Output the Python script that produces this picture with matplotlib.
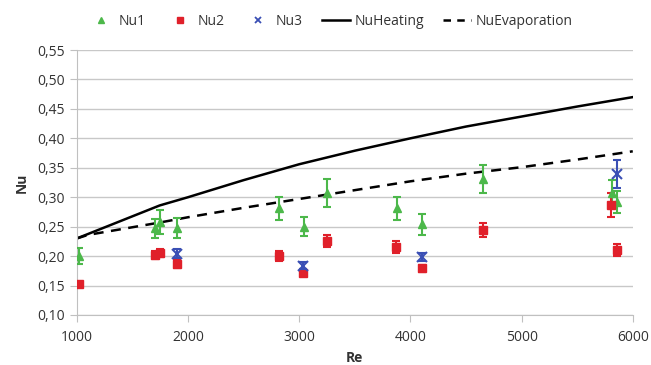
import numpy as np
import matplotlib.pyplot as plt
from matplotlib.lines import Line2D
from matplotlib.ticker import FuncFormatter

plt.rcParams['font.family'] = ['Open Sans', 'DejaVu Sans']

# measured points
re1 = [1020, 1700, 1745, 1900, 2816, 3041, 3248, 3878, 4102, 4651, 5811, 5856]
nu1 = [0.200, 0.247, 0.258, 0.247, 0.281, 0.250, 0.307, 0.281, 0.254, 0.331, 0.307, 0.292]
err1 = [0.014, 0.016, 0.020, 0.017, 0.020, 0.016, 0.024, 0.019, 0.018, 0.024, 0.023, 0.018]

re2 = [1020, 1700, 1745, 1900, 2816, 3030, 3248, 3870, 4102, 4651, 5802, 5856]
nu2 = [0.152, 0.202, 0.205, 0.187, 0.200, 0.172, 0.226, 0.215, 0.179, 0.245, 0.287, 0.210]
err2 = [0.004, 0.007, 0.007, 0.007, 0.008, 0.006, 0.010, 0.010, 0.006, 0.012, 0.020, 0.010]

re3 = [1900, 3030, 4102, 5856]
nu3 = [0.204, 0.184, 0.198, 0.340]
err3 = [0.008, 0.006, 0.007, 0.024]

# correlations
re_c = [1000, 1100, 1745, 2000, 2500, 3000, 3500, 4000, 4500, 5000, 5500, 6000]
nu_heat = [0.230, 0.2375, 0.286, 0.300, 0.329, 0.356, 0.379, 0.400, 0.420, 0.437, 0.454, 0.470]
nu_evap = [0.230, 0.236, 0.257, 0.266, 0.282, 0.297, 0.312, 0.327, 0.340, 0.351, 0.364, 0.378]

green = '#4cb84a'
red = '#e0202a'
blue = '#3a4fb4'

fig = plt.figure(figsize=(6.51, 3.65), dpi=100)
ax = fig.add_axes([0.118, 0.137, 0.854, 0.726])

ax.errorbar(re1, nu1, yerr=err1, fmt='^', color=green, ms=6, capsize=3, elinewidth=1.5,
            capthick=1.5, zorder=3)
ax.errorbar(re2, nu2, yerr=err2, fmt='s', color=red, ms=6, capsize=3, elinewidth=1.5,
            capthick=1.5, zorder=3)
ax.errorbar(re3, nu3, yerr=err3, fmt='x', color=blue, ms=7, mew=1.5, capsize=3, elinewidth=1.5,
            capthick=1.5, zorder=4)
ax.plot(re_c, nu_heat, '-', color='black', lw=1.8, zorder=2)
ax.plot(re_c, nu_evap, '--', color='black', lw=1.8, dashes=(4, 3), zorder=2)

ax.set_xlim(1000, 6000)
ax.set_ylim(0.10, 0.55)
ax.set_xticks(np.arange(1000, 6001, 1000))
ax.set_yticks(np.arange(0.10, 0.551, 0.05))
ax.yaxis.set_major_formatter(FuncFormatter(lambda v, p: f'{v:.2f}'.replace('.', ',')))
ax.grid(axis='y', color='#c8c8c8', lw=1)
ax.set_axisbelow(True)
for s in ['top', 'right']:
    ax.spines[s].set_visible(False)
for s in ['left', 'bottom']:
    ax.spines[s].set_color('#c0c0c0')
ax.tick_params(colors='#c0c0c0', labelcolor='#333333', labelsize=10, length=5)
ax.tick_params(axis='x', pad=6)
ax.set_xlabel('Re', fontweight='bold', fontsize=10, color='#333333')
ax.set_ylabel('Nu', fontweight='bold', fontsize=10, color='#333333', labelpad=6)

handles = [
    Line2D([], [], ls='none', marker='^', color=green, ms=5),
    Line2D([], [], ls='none', marker='s', color=red, ms=5),
    Line2D([], [], ls='none', marker='x', color=blue, ms=5, mew=1.3),
    Line2D([], [], ls='-', color='black', lw=1.8),
    Line2D([], [], ls='--', color='black', lw=1.8, dashes=(3, 2.5)),
]
labels = ['Nu1', 'Nu2', 'Nu3', 'NuHeating', 'NuEvaporation']
ax.legend(handles, labels, loc='lower center', bbox_to_anchor=(0.455, 1.06), ncol=5,
          frameon=False, fontsize=10, handlelength=2.0, columnspacing=1.4,
          handletextpad=0.3, borderaxespad=0, labelcolor='#333333')

fig.savefig('out.png', dpi=100)
